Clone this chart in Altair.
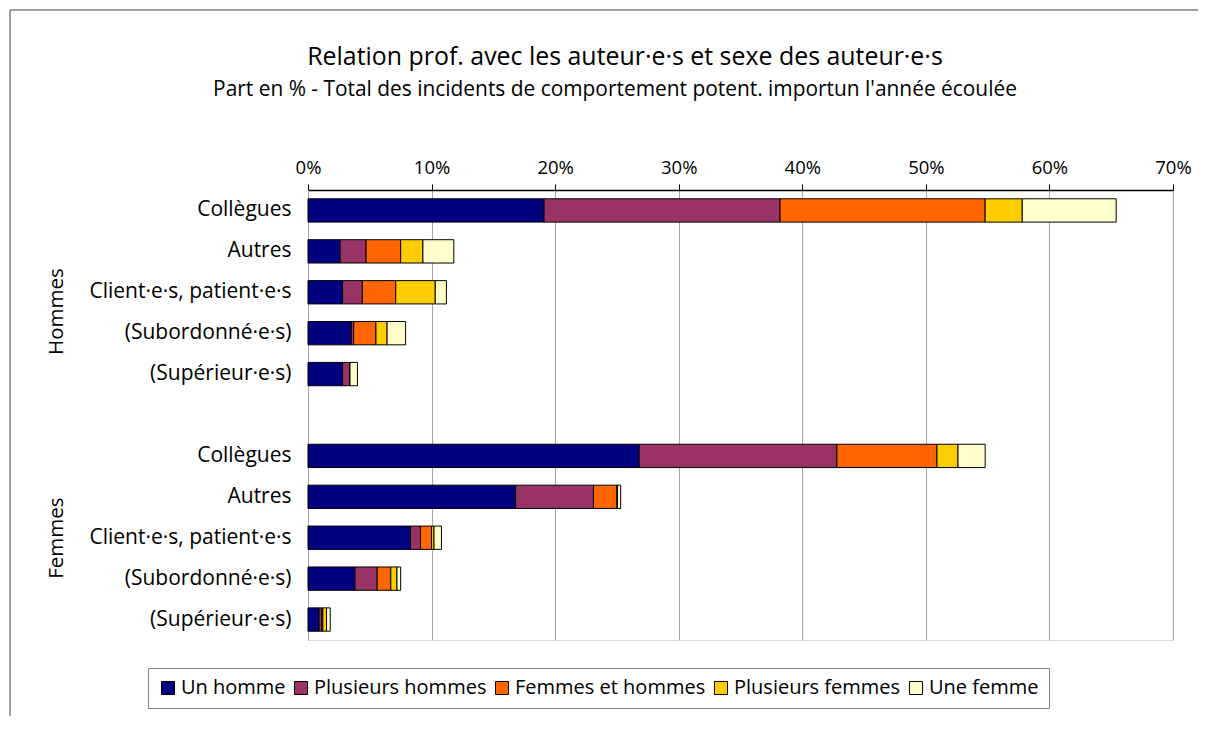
import altair as alt
import pandas as pd

series = ["Un homme", "Plusieurs hommes", "Femmes et hommes", "Plusieurs femmes", "Une femme"]
colors = ["#000080", "#993366", "#FF6600", "#FFCC00", "#FFFFCC"]

rows = ["Collègues", "Autres", "Client·e·s, patient·e·s", "(Subordonné·e·s)", "(Supérieur·e·s)"]

# Hommes – values in %
h_un_homme = [19.1, 2.6, 2.8, 3.5, 2.8]
h_plus_hommes = [19.1, 2.1, 1.6, 0.2, 0.6]
h_femmes_hommes = [16.6, 2.8, 2.7, 1.8, 0.0]
h_plus_femmes = [3.0, 1.8, 3.2, 0.9, 0.0]
h_une_femme = [7.6, 2.5, 0.9, 1.5, 0.6]

# Femmes – values in %
f_un_homme = [26.8, 16.8, 8.3, 3.8, 0.9]
f_plus_hommes = [16.0, 6.3, 0.8, 1.8, 0.2]
f_femmes_hommes = [8.1, 1.9, 0.9, 1.1, 0.1]
f_plus_femmes = [1.7, 0.05, 0.2, 0.5, 0.3]
f_une_femme = [2.2, 0.25, 0.6, 0.3, 0.3]

groups = ["Hommes", "Femmes"]
tick_values = [0, 10, 20, 30, 40, 50, 60, 70]

title_text = "Relation prof. avec les auteur·e·s et sexe des auteur·e·s"
subtitle_text = "Part en % - Total des incidents de comportement potent. importun l'année écoulée"

h_keys = ["H|" + r for r in rows]
f_keys = ["F|" + r for r in rows]
y_domain = h_keys + ["G|"] + f_keys

records = []
for keys, vals in [(h_keys, [h_un_homme, h_plus_hommes, h_femmes_hommes, h_plus_femmes, h_une_femme]),
                   (f_keys, [f_un_homme, f_plus_hommes, f_femmes_hommes, f_plus_femmes, f_une_femme])]:
    for si, s in enumerate(series):
        for ri, k in enumerate(keys):
            records.append({"row": k, "auteur": s, "order": si, "value": vals[si][ri]})
df = pd.DataFrame(records)

group_df = pd.DataFrame({"row": [h_keys[2], f_keys[2]], "label": groups, "shift": [31, 12]})

FONT = "Open Sans"

y_scale = alt.Scale(domain=y_domain, paddingInner=0.43, paddingOuter=0.215)

bars = alt.Chart(df).mark_bar(stroke="black", strokeWidth=1).encode(
    x=alt.X("sum(value):Q", stack="zero",
            scale=alt.Scale(domain=[0, 70], nice=False),
            axis=alt.Axis(orient="top", values=tick_values, labelExpr="datum.value + '%'",
                          title=None, grid=True, gridColor="#a6a6a6", domainColor="black",
                          domainWidth=1.5, tickColor="black", tickSize=6, labelFontSize=18.5,
                          labelColor="black", labelFont=FONT, labelPadding=7, labelFlush=False)),
    y=alt.Y("row:N", scale=y_scale,
            axis=alt.Axis(title=None, labelExpr="slice(datum.value, 2)", ticks=False,
                          labelFontSize=21, labelColor="black", labelFont=FONT, labelPadding=17,
                          labelLimit=400, domainColor="#a6a6a6")),
    color=alt.Color("auteur:N", scale=alt.Scale(domain=series, range=colors),
                    legend=alt.Legend(title=None, orient="none", direction="horizontal",
                                      legendX=-160, legendY=478,
                                      labelFontSize=20, labelFont=FONT, labelColor="black",
                                      labelLimit=400,
                                      symbolType="square", symbolSize=170,
                                      symbolStrokeColor="black", symbolStrokeWidth=1,
                                      strokeColor="#808080", padding=10, columnPadding=5,
                                      labelOffset=3)),
    order=alt.Order("order:Q"),
    tooltip=["auteur", "value"],
)

group_text = alt.Chart(group_df).mark_text(angle=270, fontSize=20.5, font=FONT, color="black").encode(
    y=alt.Y("row:N", scale=y_scale),
    yOffset=alt.YOffset("shift:Q", scale=None),
    x=alt.value(-251),
    text="label:N",
)

titles_df = pd.DataFrame({"t": [title_text]})
title_mark = alt.Chart(titles_df).mark_text(fontSize=24.9, font=FONT, color="black").encode(
    x=alt.value(317), y=alt.value(-132), text="t:N")
sub_df = pd.DataFrame({"t": [subtitle_text]})
subtitle_mark = alt.Chart(sub_df).mark_text(fontSize=20.9, font=FONT, color="black").encode(
    x=alt.value(307), y=alt.value(-100), text="t:N")

frame_left = alt.Chart(pd.DataFrame({"a": [0]})).mark_rule(color="#808080", strokeWidth=1.5).encode(
    x=alt.value(-298), y=alt.value(-180), y2=alt.value(600))
frame_top = alt.Chart(pd.DataFrame({"a": [0]})).mark_rule(color="#808080", strokeWidth=1.5).encode(
    x=alt.value(-298), x2=alt.value(1000), y=alt.value(-180))

chart = alt.layer(frame_left, frame_top, bars, group_text, title_mark, subtitle_mark).properties(
    width=865, height=450,
    autosize=alt.AutoSizeParams(type="none"),
    padding={"left": 300, "top": 182, "right": 25, "bottom": 76},
).configure_view(stroke="#a6a6a6", strokeWidth=1).configure(background="white")

chart.save("out.html", embed_options={"renderer": "svg", "actions": False})
